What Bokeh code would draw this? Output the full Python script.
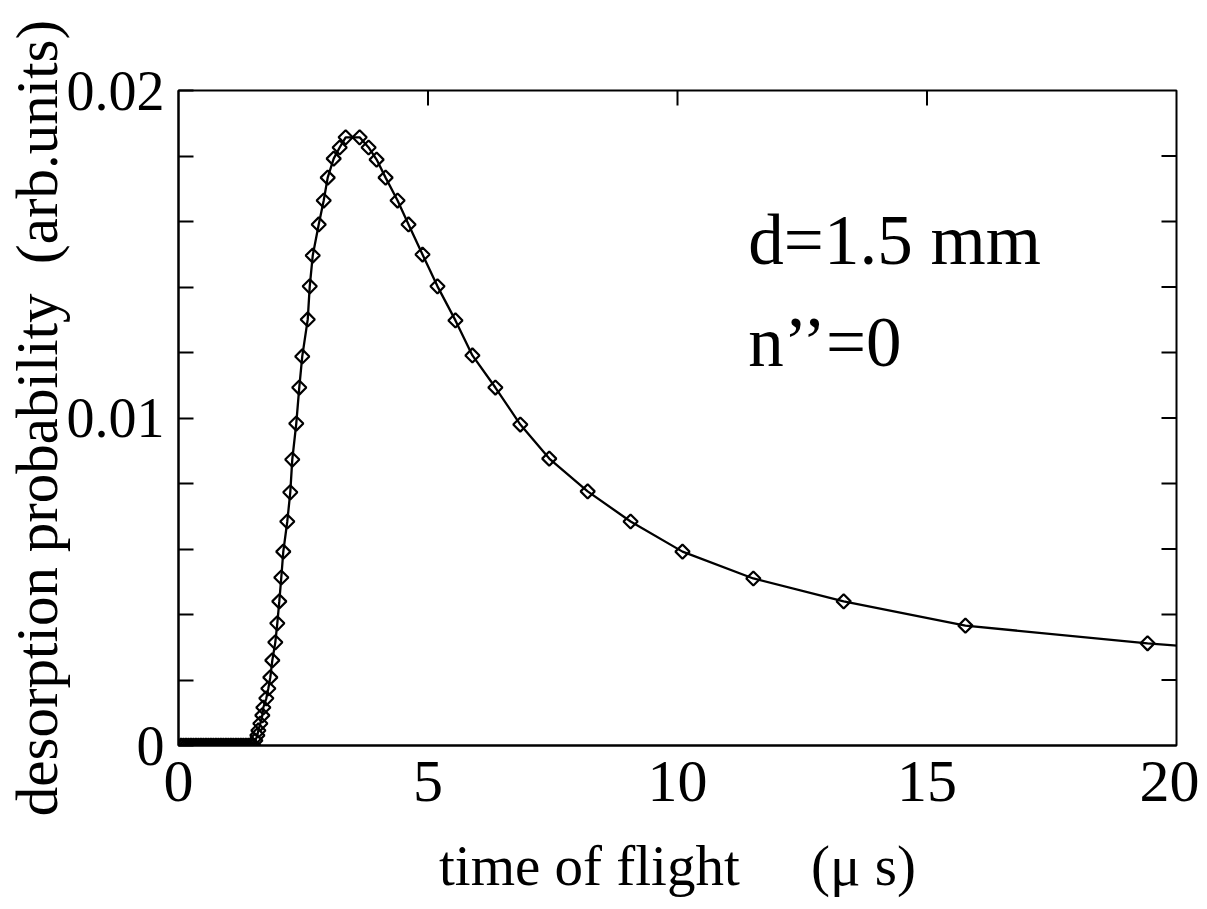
from bokeh.plotting import figure
from bokeh.models import Range1d, LinearAxis, FixedTicker, Label
from bokeh.embed import file_html
from bokeh.resources import INLINE
import math

# time of flight (microseconds)
t_us = [0.05, 0.10, 0.15, 0.20, 0.25, 0.30, 0.35, 0.40, 0.45, 0.50,
        0.55, 0.60, 0.65, 0.70, 0.75, 0.80, 0.85, 0.90, 0.95, 1.00,
        1.05, 1.10, 1.15, 1.20, 1.25, 1.30, 1.35, 1.40, 1.45, 1.50,
        1.54, 1.58, 1.60, 1.64, 1.68, 1.70, 1.76, 1.80, 1.84, 1.88,
        1.94, 1.98, 2.02, 2.06, 2.10, 2.18, 2.24, 2.28, 2.36, 2.42,
        2.48, 2.59, 2.63, 2.69, 2.81, 2.91, 2.99, 3.11, 3.23, 3.35,
        3.63, 3.81, 3.97, 4.15, 4.39, 4.61, 4.89, 5.19, 5.55, 5.89,
        6.35, 6.85, 7.43, 8.20, 9.06, 10.10, 11.52, 13.33, 15.77, 19.42,
        23.90]
# desorption probability (arb. units)
prob = [0.0, 0.0, 0.0, 0.0, 0.0, 0.0, 0.0, 0.0, 0.0, 0.0,
        0.0, 0.0, 0.0, 0.0, 0.0, 0.0, 0.0, 0.0, 0.0, 0.0,
        0.0, 0.0, 0.0, 0.0, 0.0, 0.0, 0.0, 0.0, 0.0, 0.0,
        0.00015, 0.00031, 0.00046, 0.00067, 0.00092, 0.00116, 0.00144, 0.00174, 0.00208, 0.00260,
        0.00315, 0.00373, 0.00440, 0.00513, 0.00592, 0.00684, 0.00773, 0.00873, 0.00983, 0.01093,
        0.01188, 0.01301, 0.01402, 0.01496, 0.01591, 0.01664, 0.01734, 0.01792, 0.01826, 0.01857,
        0.01857, 0.01826, 0.01789, 0.01734, 0.01664, 0.01591, 0.01499, 0.01402, 0.01298, 0.01191,
        0.01093, 0.00980, 0.00876, 0.00776, 0.00684, 0.00592, 0.00510, 0.00440, 0.00366, 0.00312,
        0.00260]

x_ticks = [0, 5, 10, 15, 20]
x_top_ticks = [5, 10, 15]
y_ticks = [0.0, 0.01, 0.02]
y_tick_labels = ["0", "0.01", "0.02"]
y_minor = [0.002, 0.004, 0.006, 0.008, 0.012, 0.014, 0.016, 0.018]
y_right_ticks = [0.002, 0.004, 0.006, 0.008, 0.01, 0.012, 0.014, 0.016, 0.018]

FONT = "Liberation Serif"
X_MIN, X_MAX = 0, 20
Y_MIN, Y_MAX = 0.0, 0.02

p = figure(width=1199, height=909, output_backend="svg", toolbar_location=None,
           x_range=Range1d(X_MIN, X_MAX), y_range=Range1d(Y_MIN, Y_MAX),
           x_axis_type=None, y_axis_type=None,
           min_border_left=178, min_border_right=23,
           min_border_top=90, min_border_bottom=164)
p.grid.visible = False
p.outline_line_color = "black"
p.outline_line_width = 2
p.background_fill_color = "white"
p.border_fill_color = "white"

# left axis
left = LinearAxis(ticker=FixedTicker(ticks=y_ticks, minor_ticks=y_minor),
                  major_label_overrides={v: s for v, s in zip(y_ticks, y_tick_labels)},
                  axis_label="desorption probability\u00a0\u00a0(arb.units)")
left.major_tick_in = 15
left.major_tick_out = 0
left.minor_tick_in = 15
left.minor_tick_out = 0
left.major_tick_line_width = 2
left.minor_tick_line_width = 2
left.axis_line_width = 2
left.major_label_standoff = 14
left.major_label_text_font = FONT
left.major_label_text_font_size = "56px"
left.major_label_text_color = "black"
left.axis_label_text_font = FONT
left.axis_label_text_font_style = "normal"
left.axis_label_text_font_size = "59px"
left.axis_label_text_color = "black"
left.axis_label_standoff = -6
p.add_layout(left, "left")

# bottom axis
bottom = LinearAxis(ticker=FixedTicker(ticks=x_ticks, minor_ticks=[]),
                    axis_label="time of flight\u00a0\u00a0\u00a0\u00a0\u00a0(\u03bc s)")
bottom.major_tick_in = 0
bottom.major_tick_out = 0
bottom.axis_line_width = 2
bottom.major_label_standoff = 16
bottom.major_label_text_font = FONT
bottom.major_label_text_font_size = "60px"
bottom.major_label_text_color = "black"
bottom.axis_label_text_font = FONT
bottom.axis_label_text_font_style = "normal"
bottom.axis_label_text_font_size = "57px"
bottom.axis_label_text_color = "black"
bottom.axis_label_standoff = 30
p.add_layout(bottom, "below")

# inward ticks on the right and top frame edges
p.scatter([X_MAX] * len(y_right_ticks), y_right_ticks, marker="dash", size=30,
          line_color="black", line_width=2)
p.scatter(x_top_ticks, [Y_MAX] * len(x_top_ticks), marker="dash", size=30,
          angle=math.pi / 2, line_color="black", line_width=2)

# data
p.line(t_us, prob, line_color="black", line_width=2.3)
p.scatter(t_us, prob, marker="square", angle=math.pi / 4, size=10,
          fill_color=None, line_color="black", line_width=2.2)

# annotations
p.add_layout(Label(x=11.42, y=0.01542, text="d=1.5 mm", text_font=FONT,
                   text_font_size="71px", text_color="black",
                   text_baseline="alphabetic"))
p.add_layout(Label(x=11.42, y=0.01231, text="n\u2019\u2019=0", text_font=FONT,
                   text_font_size="71px", text_color="black",
                   text_baseline="alphabetic"))

open("out.html", "w").write(file_html(p, INLINE))
